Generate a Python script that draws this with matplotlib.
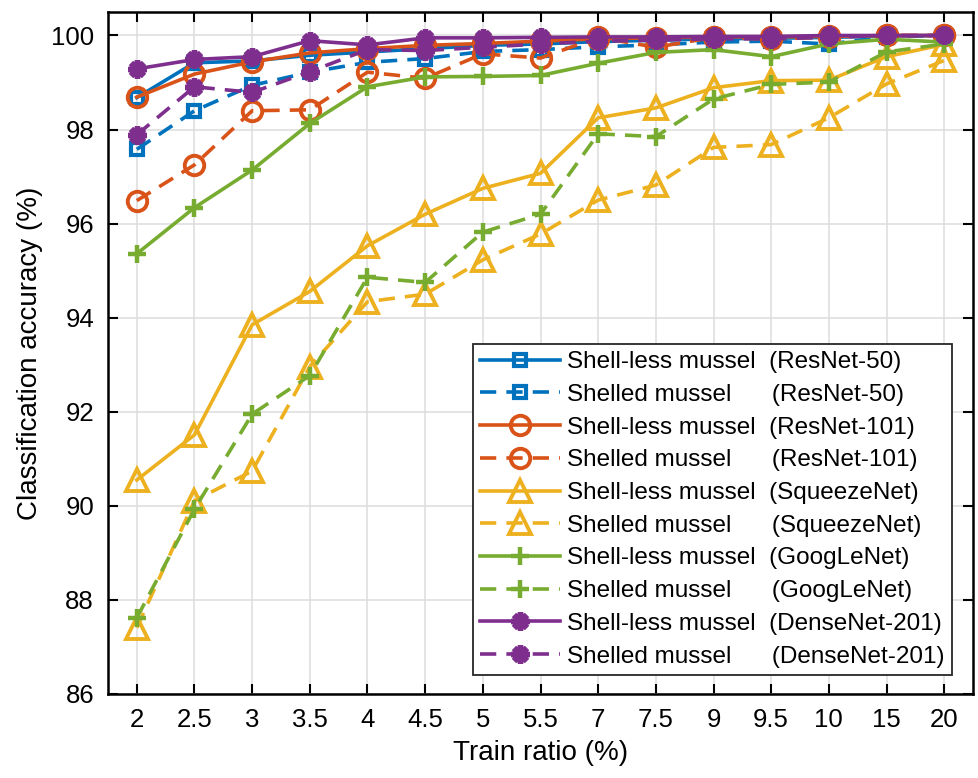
import matplotlib
matplotlib.use('Agg')
import matplotlib.pyplot as plt

plt.rcParams['font.family'] = ['Liberation Sans', 'DejaVu Sans']

# ---------------- data -------------------------------------
train_ratio = ['2', '2.5', '3', '3.5', '4', '4.5', '5', '5.5', '7', '7.5', '9', '9.5', '10', '15', '20']

resnet50_less = [98.68, 99.42, 99.46, 99.58, 99.65, 99.72, 99.79, 99.82, 99.87, 99.90, 99.93, 99.94, 99.96, 99.99, 100.0]
resnet50_shelled = [97.58, 98.40, 98.94, 99.22, 99.43, 99.51, 99.66, 99.70, 99.76, 99.80, 99.86, 99.88, 99.82, 99.97, 100.0]
resnet101_less = [98.69, 99.18, 99.44, 99.63, 99.72, 99.79, 99.83, 99.88, 99.93, 99.95, 99.97, 99.97, 99.98, 100.0, 100.0]
resnet101_shelled = [96.49, 97.25, 98.40, 98.42, 99.22, 99.09, 99.61, 99.52, 99.96, 99.75, 99.96, 99.92, 99.97, 100.0, 100.0]
squeeze_less = [90.55, 91.51, 93.85, 94.56, 95.53, 96.20, 96.75, 97.07, 98.25, 98.46, 98.89, 99.04, 99.05, 99.55, 99.81]
squeeze_shelled = [87.41, 90.11, 90.74, 92.96, 94.34, 94.50, 95.23, 95.78, 96.50, 96.82, 97.62, 97.68, 98.25, 98.97, 99.47]
google_less = [95.36, 96.34, 97.14, 98.13, 98.91, 99.12, 99.13, 99.15, 99.41, 99.64, 99.70, 99.55, 99.82, 99.92, 99.86]
google_shelled = [87.62, 89.93, 91.95, 92.77, 94.86, 94.75, 95.82, 96.20, 97.91, 97.85, 98.65, 98.96, 99.01, 99.65, 99.82]
dense_less = [99.29, 99.49, 99.55, 99.89, 99.80, 99.95, 99.95, 99.96, 99.97, 99.97, 99.98, 99.98, 100.0, 100.0, 100.0]
dense_shelled = [97.89, 98.91, 98.79, 99.23, 99.70, 99.68, 99.75, 99.82, 99.88, 99.90, 99.93, 99.93, 99.96, 100.0, 100.0]

# ---------------- plotting -----------------
fig = plt.figure(figsize=(9.79, 7.78), dpi=100)
ax = fig.add_axes([0.1103, 0.108, 0.8836, 0.8766])

xs = list(range(1, len(train_ratio) + 1))
lw = 2.6
dash = (4.5, 2.8)

series = [
    (resnet50_less, '#0072BD', 's', 9, 3.0, '-', 'Shell-less mussel  (ResNet-50)'),
    (resnet50_shelled, '#0072BD', 's', 9, 3.0, '--', 'Shelled mussel      (ResNet-50)'),
    (resnet101_less, '#D95319', 'o', 14, 2.8, '-', 'Shell-less mussel  (ResNet-101)'),
    (resnet101_shelled, '#D95319', 'o', 14, 2.8, '--', 'Shelled mussel      (ResNet-101)'),
    (squeeze_less, '#EDB120', '^', 16, 2.8, '-', 'Shell-less mussel  (SqueezeNet)'),
    (squeeze_shelled, '#EDB120', '^', 16, 2.8, '--', 'Shelled mussel      (SqueezeNet)'),
    (google_less, '#77AC30', '+', 13, 3.2, '-', 'Shell-less mussel  (GoogLeNet)'),
    (google_shelled, '#77AC30', '+', 13, 3.2, '--', 'Shelled mussel      (GoogLeNet)'),
    (dense_less, '#7E2F8E', (8, 2, 0), 13, 4.0, '-', 'Shell-less mussel  (DenseNet-201)'),
    (dense_shelled, '#7E2F8E', (8, 2, 0), 13, 4.0, '--', 'Shelled mussel      (DenseNet-201)'),
]

for vals, col, mk, ms, mew, ls, lab in series:
    line, = ax.plot(xs, vals, color=col, marker=mk, markersize=ms, markerfacecolor='none',
                    markeredgecolor=col, markeredgewidth=mew, linewidth=lw, linestyle=ls, label=lab)
    if ls == '--':
        line.set_dashes(dash)

ax.set_xlim(0.5, len(train_ratio) + 0.5)
ax.set_ylim(86, 100.5)
ax.set_xticks(xs)
ax.set_xticklabels(train_ratio)
ax.set_yticks(range(86, 101, 2))

ax.grid(True, color='#dcdcdc', linewidth=1.1)
ax.set_axisbelow(True)
ax.tick_params(direction='in', length=7, width=1.5, top=True, right=True,
               labelsize=18.5, pad=10, colors='black')
for s in ax.spines.values():
    s.set_linewidth(1.8)

ax.set_xlabel('Train ratio (%)', fontsize=20, labelpad=6)
ax.set_ylabel('Classification accuracy (%)', fontsize=20, labelpad=6)

leg = ax.legend(loc='lower right', bbox_to_anchor=(0.976, 0.028), borderaxespad=0,
                fontsize=17.5, handlelength=3.3, handletextpad=0.3, labelspacing=0.44,
                borderpad=0.3, fancybox=False, framealpha=1, edgecolor='#262626', numpoints=1)
leg.get_frame().set_linewidth(1.3)

plt.savefig('out.png', dpi=100)
